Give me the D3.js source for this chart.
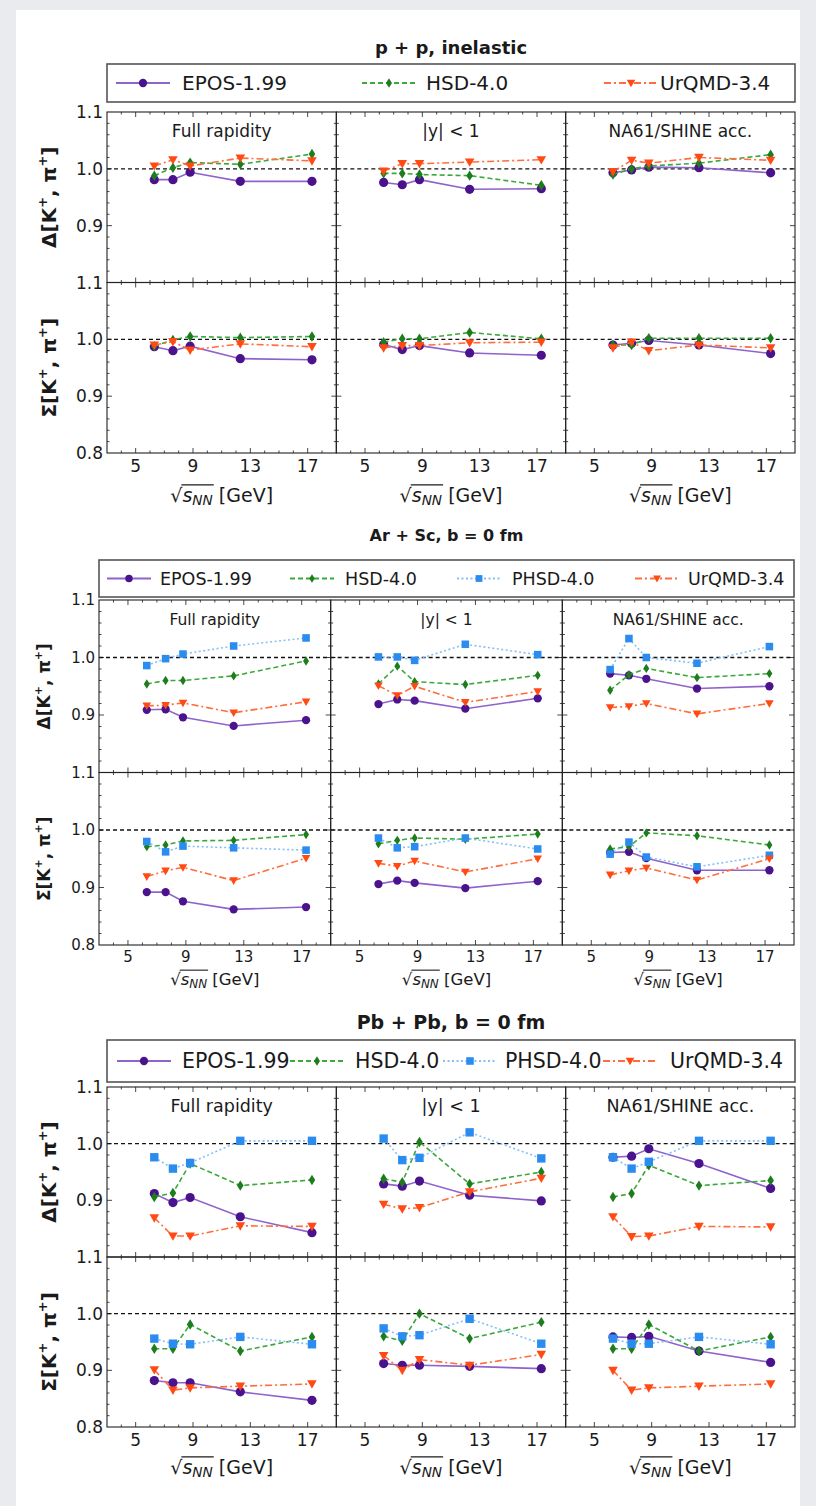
<!DOCTYPE html>
<html lang="en">
<head>
<meta charset="UTF-8">
<title>K+ / pi+ fluctuation measures</title>
<script src="https://d3js.org/d3.v7.min.js"></script>
<style>
    body { margin: 0; background: #e9ebee; }
    #canvas { display: block; }
    text { font-family: "DejaVu Sans", sans-serif; fill: #1a1a1a; }
</style>
</head>
<body>
<svg id="canvas" width="816" height="1506"></svg>
<script>
// ---- data ----
const energies = [6.3, 7.6, 8.8, 12.3, 17.3];
const acceptances = ["Full rapidity", "|y| < 1", "NA61/SHINE acc."];
const xTicks = [5, 9, 13, 17];
const yTicks = [0.8, 0.9, 1.0, 1.1];

// each array: [model][acceptance][energy]
const ppModels = ["EPOS-1.99", "HSD-4.0", "UrQMD-3.4"];
const ppDelta = [
    [[0.981, 0.981, 0.994, 0.978, 0.978], [0.976, 0.972, 0.981, 0.964, 0.965], [0.993, 0.998, 1.003, 1.002, 0.993]],
    [[0.988, 1.002, 1.011, 1.008, 1.026], [0.992, 0.992, 0.990, 0.988, 0.971], [0.990, 1.000, 1.005, 1.010, 1.025]],
    [[1.005, 1.016, 1.005, 1.019, 1.014], [0.996, 1.009, 1.009, 1.012, 1.016], [0.995, 1.015, 1.010, 1.020, 1.015]]
];
const ppSigma = [
    [[0.987, 0.980, 0.988, 0.966, 0.964], [0.991, 0.982, 0.989, 0.976, 0.972], [0.990, 0.993, 0.998, 0.990, 0.975]],
    [[0.988, 0.999, 1.005, 1.003, 1.005], [0.995, 1.001, 1.001, 1.012, 1.001], [0.990, 0.990, 1.002, 1.002, 1.002]],
    [[0.990, 0.996, 0.981, 0.992, 0.987], [0.985, 0.989, 0.989, 0.994, 0.995], [0.985, 0.995, 0.980, 0.990, 0.985]]
];

const ionModels = ["EPOS-1.99", "HSD-4.0", "PHSD-4.0", "UrQMD-3.4"];
const arDelta = [
    [[0.909, 0.910, 0.896, 0.881, 0.891], [0.919, 0.927, 0.925, 0.911, 0.929], [0.972, 0.969, 0.963, 0.946, 0.950]],
    [[0.954, 0.960, 0.960, 0.968, 0.994], [0.954, 0.985, 0.958, 0.953, 0.969], [0.943, 0.970, 0.981, 0.965, 0.972]],
    [[0.986, 0.998, 1.006, 1.020, 1.034], [1.001, 1.001, 0.995, 1.023, 1.005], [0.979, 1.033, 1.000, 0.990, 1.019]],
    [[0.916, 0.917, 0.921, 0.904, 0.923], [0.951, 0.934, 0.950, 0.922, 0.941], [0.913, 0.915, 0.920, 0.902, 0.920]]
];
const arSigma = [
    [[0.892, 0.892, 0.876, 0.862, 0.866], [0.906, 0.912, 0.908, 0.899, 0.911], [0.961, 0.962, 0.951, 0.930, 0.930]],
    [[0.971, 0.974, 0.981, 0.982, 0.992], [0.976, 0.982, 0.986, 0.984, 0.993], [0.967, 0.971, 0.995, 0.990, 0.974]],
    [[0.980, 0.962, 0.972, 0.969, 0.965], [0.986, 0.969, 0.971, 0.986, 0.967], [0.958, 0.979, 0.953, 0.936, 0.956]],
    [[0.919, 0.929, 0.935, 0.912, 0.951], [0.942, 0.937, 0.946, 0.927, 0.950], [0.922, 0.929, 0.934, 0.913, 0.950]]
];
const pbDelta = [
    [[0.912, 0.896, 0.905, 0.871, 0.843], [0.929, 0.925, 0.934, 0.909, 0.899], [0.976, 0.978, 0.991, 0.965, 0.921]],
    [[0.906, 0.913, 0.965, 0.926, 0.936], [0.938, 0.932, 1.003, 0.929, 0.950], [0.906, 0.912, 0.962, 0.926, 0.935]],
    [[0.976, 0.956, 0.966, 1.005, 1.005], [1.009, 0.971, 0.975, 1.020, 0.974], [0.976, 0.956, 0.968, 1.005, 1.005]],
    [[0.869, 0.837, 0.837, 0.855, 0.854], [0.893, 0.885, 0.887, 0.915, 0.939], [0.871, 0.836, 0.837, 0.854, 0.853]]
];
const pbSigma = [
    [[0.882, 0.878, 0.878, 0.862, 0.847], [0.912, 0.909, 0.909, 0.907, 0.903], [0.959, 0.958, 0.960, 0.934, 0.914]],
    [[0.938, 0.938, 0.981, 0.934, 0.959], [0.960, 0.952, 1.000, 0.956, 0.985], [0.938, 0.938, 0.981, 0.934, 0.959]],
    [[0.956, 0.947, 0.946, 0.959, 0.946], [0.974, 0.960, 0.962, 0.991, 0.947], [0.956, 0.947, 0.947, 0.959, 0.946]],
    [[0.901, 0.865, 0.869, 0.872, 0.876], [0.926, 0.900, 0.919, 0.909, 0.928], [0.900, 0.865, 0.869, 0.872, 0.876]]
];

// ---- look of each model ----
const modelStyle = {
    "EPOS-1.99": {line: "#8f63cc", mark: "#4a128c", dash: null, shape: "circle"},
    "HSD-4.0":   {line: "#3aa83a", mark: "#1d7d1d", dash: "5,3", shape: "diamond"},
    "PHSD-4.0":  {line: "#86bff8", mark: "#2b8cf0", dash: "2,2.5", shape: "square"},
    "UrQMD-3.4": {line: "#ff6d3d", mark: "#ff4a14", dash: "7,3,2,3", shape: "tri"}
};

const sections = [
    {title: "p + p,  inelastic", models: ppModels, delta: ppDelta, sigma: ppSigma,
     left: 107, right: 795, top: 112, panelH: 170.5, titleY: 54, titleFs: 18,
     legY0: 64, legY1: 102, legItems: [[116, 182], [362, 426], [604, 660]], legLen: 54, legFs: 20,
     fs: 17, labFs: 17, axFs: 19, ylabX: 56, ylabFs: 20, tickY: 13, axY: 49, ms: 1},
    {title: "Ar + Sc,  b = 0 fm", models: ionModels, delta: arDelta, sigma: arSigma,
     left: 99, right: 794, top: 600, panelH: 172.5, titleY: 541, titleFs: 16,
     legY0: 560, legY1: 597, legItems: [[107, 160], [290, 345], [457, 512], [635, 688]], legLen: 44, legFs: 17.5,
     fs: 15, labFs: 15.5, axFs: 16.5, ylabX: 50, ylabFs: 17, tickY: 12, axY: 40, ms: 0.9},
    {title: "Pb + Pb,  b = 0 fm", models: ionModels, delta: pbDelta, sigma: pbSigma,
     left: 107, right: 795, top: 1087, panelH: 170, titleY: 1029, titleFs: 19,
     legY0: 1040, legY1: 1082, legItems: [[117, 182], [290, 355], [443, 505], [603, 670]], legLen: 54, legFs: 20.5,
     fs: 17, labFs: 17.5, axFs: 19, ylabX: 56, ylabFs: 20, tickY: 13, axY: 47, ms: 1}
];

const svg = d3.select("#canvas");
svg.append("rect").attr("x", 16).attr("y", 10).attr("width", 784).attr("height", 1496).attr("fill", "white");

function marker(g, shape, color, cx, cy, k) {
    let p;
    if (shape === "circle") {
        p = g.append("circle").attr("r", 4.6 * k);
    } else if (shape === "diamond") {
        p = g.append("path").attr("d", `M0,${-5.2 * k}L${3.3 * k},0L0,${5.2 * k}L${-3.3 * k},0Z`);
    } else if (shape === "square") {
        const s = 4.2 * k;
        p = g.append("path").attr("d", `M${-s},${-s}H${s}V${s}H${-s}Z`);
    } else {
        p = g.append("path").attr("d", `M${-4.8 * k},${-3.6 * k}L${4.8 * k},${-3.6 * k}L0,${4.8 * k}Z`);
    }
    p.attr("transform", `translate(${cx},${cy})`).attr("fill", color);
}

function xLabel(g, cx, y, fs) {
    const t = g.append("text").attr("x", cx).attr("y", y).attr("text-anchor", "middle")
        .attr("font-size", fs);
    t.append("tspan").text("\u221A");
    t.append("tspan").attr("font-style", "italic").text("s");
    t.append("tspan").attr("font-style", "italic").attr("font-size", fs * 0.72).attr("dy", fs * 0.18).text("NN");
    t.append("tspan").attr("dy", -fs * 0.18).text(" [GeV]");
    const node = t.node();
    const x0 = node.getEndPositionOfChar(0).x - 1;
    const x1 = node.getEndPositionOfChar(3).x + 1;
    g.append("line").attr("x1", x0).attr("x2", x1)
        .attr("y1", y - fs * 0.9).attr("y2", y - fs * 0.9)
        .attr("stroke", "#1a1a1a").attr("stroke-width", 1.1);
}

function yLabel(g, x, cy, fs, sym) {
    const t = g.append("text").attr("transform", `translate(${x},${cy}) rotate(-90)`)
        .attr("text-anchor", "middle").attr("font-size", fs).attr("font-weight", "bold");
    t.append("tspan").text(sym + "[K");
    t.append("tspan").attr("font-size", fs * 0.65).attr("dy", -fs * 0.45).text("+");
    t.append("tspan").attr("dy", fs * 0.45).text(", \u03C0");
    t.append("tspan").attr("font-size", fs * 0.65).attr("dy", -fs * 0.45).text("+");
    t.append("tspan").attr("dy", fs * 0.45).text("]");
}

function drawPanel(g, sec, col, row, values) {
    const colW = (sec.right - sec.left) / 3;
    const x0 = sec.left + col * colW, x1 = x0 + colW;
    const y0 = sec.top + row * sec.panelH, y1 = y0 + sec.panelH;
    const x = d3.scaleLinear().domain([3, 19]).range([x0, x1]);
    const y = d3.scaleLinear().domain([0.8, 1.1]).range([y1, y0]);

    const tk = g.append("g").attr("stroke", "#333").attr("stroke-width", 0.9);
    d3.range(4, 19).forEach(v => {
        const len = xTicks.includes(v) ? 5 : 2.5;
        tk.append("line").attr("x1", x(v)).attr("x2", x(v)).attr("y1", y1).attr("y2", y1 - len);
        tk.append("line").attr("x1", x(v)).attr("x2", x(v)).attr("y1", y0).attr("y2", y0 + len);
    });
    d3.range(0.82, 1.09, 0.02).forEach(v => {
        const major = yTicks.some(t => Math.abs(t - v) < 1e-6);
        const len = major ? 5 : 2.5;
        tk.append("line").attr("x1", x0).attr("x2", x0 + len).attr("y1", y(v)).attr("y2", y(v));
        tk.append("line").attr("x1", x1).attr("x2", x1 - len).attr("y1", y(v)).attr("y2", y(v));
    });

    g.append("line").attr("x1", x0).attr("x2", x1).attr("y1", y(1.0)).attr("y2", y(1.0))
        .attr("stroke", "#111").attr("stroke-width", 1.4).attr("stroke-dasharray", "4,3");

    const line = d3.line().x((d, i) => x(energies[i])).y(d => y(d));
    sec.models.forEach((m, mi) => {
        const st = modelStyle[m];
        const vals = values[mi][col];
        g.append("path").attr("d", line(vals)).attr("fill", "none")
            .attr("stroke", st.line).attr("stroke-width", 1.6)
            .attr("stroke-dasharray", st.dash);
        vals.forEach((v, i) => marker(g, st.shape, st.mark, x(energies[i]), y(v), sec.ms));
    });

    g.append("rect").attr("x", x0).attr("y", y0).attr("width", colW).attr("height", sec.panelH)
        .attr("fill", "none").attr("stroke", "#222").attr("stroke-width", 1.1);

    if (col === 0) {
        const ticks = row === 0 ? [0.9, 1.0, 1.1] : yTicks;
        ticks.forEach(v => {
            g.append("text").attr("x", x0 - 4).attr("y", y(v)).attr("dy", "0.36em")
                .attr("text-anchor", "end").attr("font-size", sec.fs).text(v.toFixed(1));
        });
    }
    if (row === 0) {
        g.append("text").attr("x", (x0 + x1) / 2).attr("y", y0 + 25).attr("text-anchor", "middle")
            .attr("font-size", sec.labFs).text(acceptances[col]);
    }
    if (row === 1) {
        xTicks.forEach(v => {
            g.append("text").attr("x", x(v)).attr("y", y1 + sec.tickY).attr("dy", "0.36em")
                .attr("text-anchor", "middle").attr("font-size", sec.fs).text(v);
        });
        xLabel(g, (x0 + x1) / 2, y1 + sec.axY, sec.axFs);
    }
}

sections.forEach(sec => {
    const g = svg.append("g");
    g.append("text").attr("x", (sec.left + sec.right) / 2).attr("y", sec.titleY)
        .attr("text-anchor", "middle").attr("font-size", sec.titleFs).attr("font-weight", "bold")
        .text(sec.title);

    // legend
    g.append("rect").attr("x", sec.left).attr("y", sec.legY0)
        .attr("width", sec.right - sec.left).attr("height", sec.legY1 - sec.legY0)
        .attr("fill", "white").attr("stroke", "#555").attr("stroke-width", 1.6);
    const ly = (sec.legY0 + sec.legY1) / 2;
    sec.models.forEach((m, i) => {
        const st = modelStyle[m];
        const [lx, tx] = sec.legItems[i];
        g.append("line").attr("x1", lx).attr("x2", lx + sec.legLen).attr("y1", ly).attr("y2", ly)
            .attr("stroke", st.line).attr("stroke-width", 1.8).attr("stroke-dasharray", st.dash);
        marker(g, st.shape, st.mark, lx + sec.legLen / 2, ly, sec.ms * 0.9);
        g.append("text").attr("x", tx).attr("y", ly).attr("dy", "0.36em")
            .attr("font-size", sec.legFs).text(m);
    });

    [sec.delta, sec.sigma].forEach((vals, row) => {
        for (let col = 0; col < 3; col++) drawPanel(g, sec, col, row, vals);
        yLabel(g, sec.ylabX, sec.top + sec.panelH * (row + 0.5), sec.ylabFs, row === 0 ? "\u0394" : "\u03A3");
    });
});
</script>
</body>
</html>
